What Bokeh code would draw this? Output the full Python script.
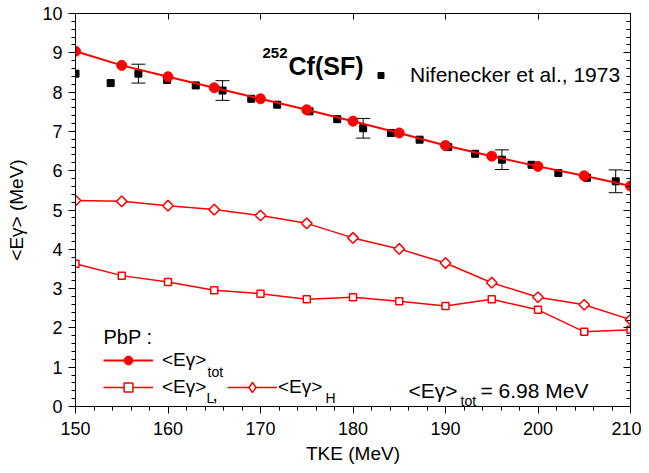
import numpy as np
from bokeh.plotting import figure
from bokeh.models import (ColumnDataSource, Whisker, TeeHead, Label, Legend, LegendItem,
                          LinearAxis, Range1d, SingleIntervalTicker, CustomJSTickFormatter)
from bokeh.core.properties import value
from bokeh.embed import file_html
from bokeh.resources import INLINE

FONT = "Liberation Sans"
RED = "#ff0000"

# ---- data ----
tke_pbp = [150, 155, 160, 165, 170, 175, 180, 185, 190, 195, 200, 205, 210]
eg_tot = [9.04, 8.68, 8.39, 8.11, 7.83, 7.55, 7.26, 6.96, 6.64, 6.37, 6.11, 5.87, 5.61]
eg_L = [3.63, 3.33, 3.17, 2.96, 2.87, 2.73, 2.78, 2.68, 2.56, 2.73, 2.46, 1.90, 1.95]
eg_H = [5.24, 5.22, 5.11, 5.01, 4.86, 4.66, 4.29, 4.01, 3.65, 3.15, 2.78, 2.59, 2.21]

tke_nif = [150.0, 153.8, 156.8, 159.9, 163.0, 165.9, 169.0, 171.8, 175.3, 178.3,
           181.1, 184.1, 187.2, 190.3, 193.2, 196.1, 199.3, 202.2, 205.3, 208.4]
eg_nif = [8.47, 8.23, 8.47, 8.31, 8.17, 8.04, 7.83, 7.68, 7.51, 7.31,
          7.08, 6.96, 6.79, 6.60, 6.43, 6.28, 6.15, 5.94, 5.82, 5.73]
err_nif = [0, 0, 0.24, 0, 0, 0.25, 0, 0, 0, 0,
           0.25, 0, 0, 0, 0, 0.25, 0, 0, 0, 0.29]

title_iso = "252"
title_main = "Cf(SF)"
nif_label = "Nifenecker et al., 1973"
mean_tot_text = "= 6.98 MeV"

p = figure(frame_width=555, frame_height=393,
           x_range=Range1d(150, 210), y_range=Range1d(0, 10),
           output_backend="svg", toolbar_location=None,
           min_border_left=75, min_border_right=11, min_border_top=13, min_border_bottom=59)
p.xgrid.visible = False
p.ygrid.visible = False
p.outline_line_color = "black"
p.outline_line_width = 1

xt = SingleIntervalTicker(interval=10, num_minor_ticks=5)
yt = SingleIntervalTicker(interval=1, num_minor_ticks=5)
p.xaxis.ticker = xt
p.yaxis.ticker = yt
for ax in (p.xaxis[0], p.yaxis[0]):
    ax.axis_line_color = "black"
    ax.major_tick_line_color = "black"
    ax.minor_tick_line_color = "black"
    ax.major_tick_in = 0
    ax.major_tick_out = 7
    ax.minor_tick_in = 0
    ax.minor_tick_out = 4
    ax.major_label_text_font = FONT
    ax.major_label_text_font_size = "18px"
    ax.major_label_text_color = "black"
    ax.axis_label_text_font = FONT
    ax.axis_label_text_font_size = "19px"
    ax.axis_label_text_font_style = "normal"
    ax.axis_label_text_color = "black"
p.xaxis.axis_label = "TKE (MeV)"
p.yaxis.axis_label = "<Eγ> (MeV)"
p.xaxis.major_label_standoff = 8
p.xaxis.axis_label_standoff = 5
p.yaxis.major_label_standoff = 6
p.yaxis.axis_label_standoff = 12

blank = CustomJSTickFormatter(code="return ''")
top = LinearAxis(ticker=xt, formatter=blank, major_tick_in=6, major_tick_out=0,
                 minor_tick_line_color=None, major_label_standoff=0,
                 major_label_text_font_size="1px", axis_line_color="black")
right = LinearAxis(ticker=yt, formatter=blank, major_tick_in=7, major_tick_out=0,
                   minor_tick_in=4, minor_tick_out=0, major_label_standoff=0,
                   major_label_text_font_size="1px", axis_line_color="black")
p.add_layout(top, "above")
p.add_layout(right, "right")

# Nifenecker data with error bars
src_nif = ColumnDataSource(dict(x=tke_nif, y=eg_nif))
r_nif = p.scatter("x", "y", source=src_nif, marker="square", size=7,
                  fill_color="black", line_color="black")
ex = [x for x, e in zip(tke_nif, err_nif) if e > 0]
elo = [y - e for y, e in zip(eg_nif, err_nif) if e > 0]
ehi = [y + e for y, e in zip(eg_nif, err_nif) if e > 0]
err_src = ColumnDataSource(dict(x=ex, lower=elo, upper=ehi))
p.add_layout(Whisker(base="x", lower="lower", upper="upper", source=err_src,
                     line_color="black", line_width=1,
                     upper_head=TeeHead(size=14, line_color="black", line_width=1),
                     lower_head=TeeHead(size=14, line_color="black", line_width=1)))

# PbP curves
r_L_line = p.line(tke_pbp, eg_L, line_color=RED, line_width=1.5)
r_L_pts = p.scatter(tke_pbp, eg_L, marker="square", size=7, line_color=RED,
                    fill_color="white", line_width=1.5)
r_H_line = p.line(tke_pbp, eg_H, line_color=RED, line_width=1.5)
r_H_pts = p.scatter(tke_pbp, eg_H, marker="square", angle=np.pi / 4, size=7.5,
                    line_color=RED, fill_color="white", line_width=1.5)
# legend-only swatch (legend markers are drawn unrotated, so use a diamond marker)
r_H_leg = p.scatter(x=[float("nan")], y=[float("nan")], marker="diamond", size=10,
                    line_color=RED, fill_color="white", line_width=1.5)
r_tot_line = p.line(tke_pbp, eg_tot, line_color=RED, line_width=2)
r_tot_pts = p.scatter(tke_pbp, eg_tot, marker="circle", size=10,
                      fill_color=RED, line_color=RED)


def mk_legend(items, loc, gw, gh, standoff, fsize):
    return Legend(items=items, location=loc, orientation="vertical",
                  glyph_width=gw, glyph_height=gh, label_height=gh,
                  label_standoff=standoff, padding=0, margin=0, spacing=0,
                  border_line_color=None, background_fill_alpha=0,
                  label_text_font=FONT, label_text_font_size=fsize,
                  label_text_color="black")


p.add_layout(mk_legend([LegendItem(label=value(nif_label), renderers=[r_nif])],
                       (298, 319), 15, 24, 22, "21px"))
p.add_layout(mk_legend([LegendItem(label=value("<Eγ>"), renderers=[r_tot_line, r_tot_pts])],
                       (28, 35), 50, 22, 9, "19px"))
p.add_layout(mk_legend([LegendItem(label=value("<Eγ>"), renderers=[r_L_line, r_L_pts])],
                       (28, 8), 50, 22, 9, "19px"))
p.add_layout(mk_legend([LegendItem(label=value("<Eγ>"), renderers=[r_H_line, r_H_leg])],
                       (152, 6), 50, 26, 1, "19px"))


def lab(x, y, text, size, style="normal"):
    p.add_layout(Label(x=x, y=y, x_units="screen", y_units="screen", text=text,
                       text_font=FONT, text_font_size=size, text_font_style=style,
                       text_color="black", text_baseline="alphabetic", text_align="left"))


lab(187, 354, title_iso, "15px", "bold")
lab(213, 340.5, title_main, "25px", "bold")
lab(28, 70, "PbP :", "20px")
lab(132, 35, "tot", "14px")
lab(131, 9, "L", "14px")
lab(137, 12, ",", "19px")
lab(250, 9, "H", "14px")
lab(333, 16, "<Eγ>", "21px")
lab(385, 6, "tot", "14px")
lab(405, 16, mean_tot_text, "21px")

open("out.html", "w").write(file_html(p, INLINE))
